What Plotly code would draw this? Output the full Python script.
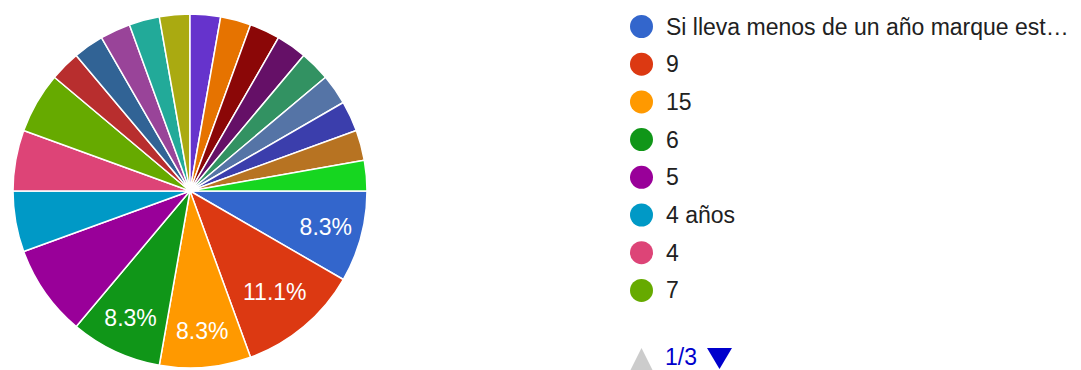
import plotly.graph_objects as go

# Response counts per answer, in survey order
labels = [
    "Si lleva menos de un año marque esta opción", "9", "15", "6", "5", "4 años", "4", "7",
    "10", "12", "3", "8", "2", "20", "1", "11", "13", "18", "14", "16", "25", "30",
]
counts = [3, 4, 3, 3, 3, 2, 2, 2, 1, 1, 1, 1, 1, 1, 1, 1, 1, 1, 1, 1, 1, 1]
# Slices whose percentage is printed on the pie
shown_pct = [True, True, True, True, False, False, False, False] + [False] * 14

colors = [
    "#3366cc", "#dc3912", "#ff9900", "#109618", "#990099", "#0099c6", "#dd4477", "#66aa00",
    "#b82e2e", "#316395", "#994499", "#22aa99", "#aaaa11", "#6633cc", "#e67300", "#8b0707",
    "#651067", "#329262", "#5574a6", "#3b3eac", "#b77322", "#16d620",
]

# Legend shows the first page of entries
legend_page = 1
legend_pages = 3
per_page = 8

W, H = 1081, 370
FONT = "Arial, Liberation Sans, sans-serif"


def px(x):
    return x / W


def py(y):
    return 1 - y / H


def short(text, n=35):
    return text if len(text) <= n else text[:n] + "…"


fig = go.Figure(
    go.Pie(
        labels=labels,
        values=counts,
        sort=False,
        direction="clockwise",
        rotation=90,
        marker=dict(colors=colors, line=dict(color="white", width=1.5)),
        texttemplate=["%{percent:.1%}" if s else "" for s in shown_pct],
        textposition="inside",
        insidetextorientation="horizontal",
        textfont=dict(family=FONT, size=23, color="white"),
        domain=dict(x=[px(13), px(367)], y=[py(368), py(14)]),
        showlegend=False,
        hoverinfo="label+value+percent",
    )
)

shapes = []
annotations = []
start = (legend_page - 1) * per_page
for i, (lab, col) in enumerate(zip(labels[start:start + per_page], colors[start:start + per_page])):
    cy = 26.5 + i * 37.7
    r = 11.5
    shapes.append(dict(
        type="circle", xref="paper", yref="paper",
        x0=px(641.5 - r), x1=px(641.5 + r), y0=py(cy + r), y1=py(cy - r),
        fillcolor=col, line=dict(width=0),
    ))
    annotations.append(dict(
        x=px(664), y=py(cy), xref="paper", yref="paper",
        xanchor="left", yanchor="middle", showarrow=False,
        text=short(lab), font=dict(family=FONT, size=23, color="#212121"),
    ))

# Pager: previous (disabled), page indicator, next
shapes.append(dict(
    type="path", xref="paper", yref="paper",
    path=f"M {px(630)} {py(371)} L {px(653)} {py(371)} L {px(641.5)} {py(348)} Z",
    fillcolor="#cccccc", line=dict(width=0),
))
shapes.append(dict(
    type="path", xref="paper", yref="paper",
    path=f"M {px(707)} {py(348)} L {px(732)} {py(348)} L {px(719.5)} {py(369)} Z",
    fillcolor="#0000cc", line=dict(width=0),
))
annotations.append(dict(
    x=px(663), y=py(357), xref="paper", yref="paper",
    xanchor="left", yanchor="middle", showarrow=False,
    text=f"{legend_page}/{legend_pages}", font=dict(family=FONT, size=23, color="#0000cc"),
))

fig.update_layout(
    width=W, height=H,
    margin=dict(l=0, r=0, t=0, b=0),
    paper_bgcolor="white", plot_bgcolor="white",
    shapes=shapes, annotations=annotations,
)

fig.write_html("out.html")
